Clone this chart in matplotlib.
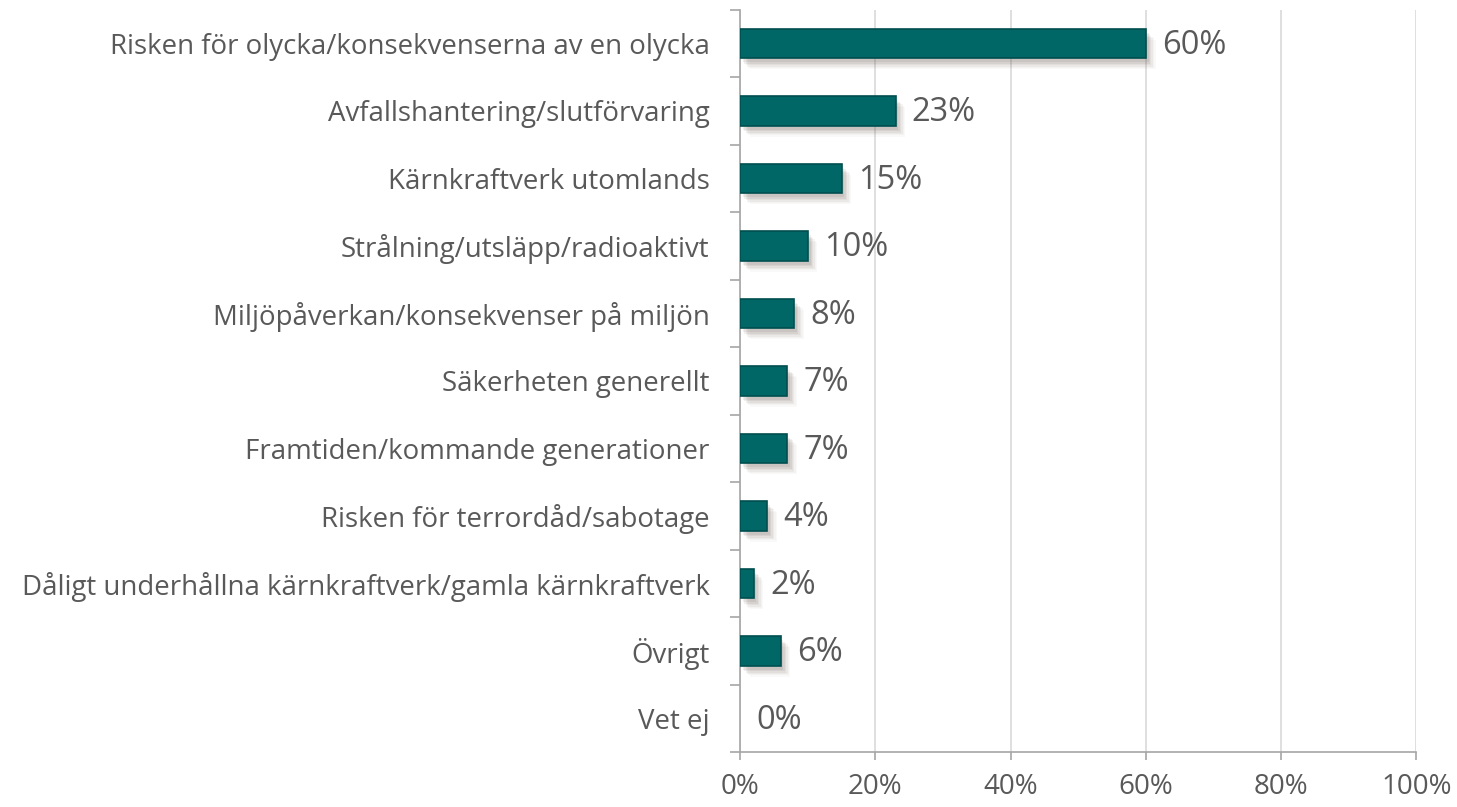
import matplotlib
matplotlib.use("Agg")
import matplotlib.pyplot as plt
import matplotlib.patheffects as pe
from matplotlib.ticker import FuncFormatter

categories = [
    "Risken för olycka/konsekvenserna av en olycka",
    "Avfallshantering/slutförvaring",
    "Kärnkraftverk utomlands",
    "Strålning/utsläpp/radioaktivt",
    "Miljöpåverkan/konsekvenser på miljön",
    "Säkerheten generellt",
    "Framtiden/kommande generationer",
    "Risken för terrordåd/sabotage",
    "Dåligt underhållna kärnkraftverk/gamla kärnkraftverk",
    "Övrigt",
    "Vet ej",
]
values = [60, 23, 15, 10, 8, 7, 7, 4, 2, 6, 0]
xticks = [0, 20, 40, 60, 80, 100]

plt.rcParams['font.family'] = ['Open Sans', 'DejaVu Sans']
txt = '#595959'

fig = plt.figure(figsize=(14.57, 8.07), dpi=100)
ax = fig.add_axes([0.508, 0.068, 0.464, 0.920])

y = list(range(len(categories)))
bars = ax.barh(y, values, height=0.44, color='#006666', edgecolor='#004f4f',
               linewidth=1.2, zorder=3)
shadow = [pe.SimplePatchShadow(offset=(2 + k, -3 - k), shadow_rgbFace='#6b5a52', alpha=a)
          for k, a in zip(range(6), [0.10, 0.09, 0.08, 0.06, 0.04, 0.03])]
for b, v in zip(bars, values):
    if v <= 0:
        b.set_linewidth(0)
        continue
    b.set_path_effects(shadow + [pe.Normal()])

for yi, v in zip(y, values):
    ax.text(v + 2.4, yi + 0.03, f"{v}%", va='center', ha='left', fontsize=23.5, color=txt, zorder=4)

ax.set_xlim(0, 100)
ax.set_ylim(len(categories) - 0.5, -0.5)
ax.set_xticks(xticks)
ax.xaxis.set_major_formatter(FuncFormatter(lambda v, p: f"{int(v)}%"))
ax.set_yticks(y)
ax.set_yticklabels(categories)
ax.set_yticks([i - 0.5 for i in range(len(categories) + 1)], minor=True)
ax.tick_params(axis='y', which='major', length=0, pad=22, labelsize=19.9, labelcolor=txt)
ax.tick_params(axis='y', which='minor', length=7, width=1.2, color='#a6a6a6', direction='out')
ax.tick_params(axis='x', length=6, width=1.2, color='#a6a6a6', direction='out', pad=9,
               labelsize=20, labelcolor=txt)

ax.grid(axis='x', color='#d9d9d9', linewidth=1.2, zorder=0)
for s in ['top', 'right']:
    ax.spines[s].set_visible(False)
for s in ['left', 'bottom']:
    ax.spines[s].set_color('#a6a6a6')
    ax.spines[s].set_linewidth(1.2)

fig.savefig('out.png', dpi=100)
